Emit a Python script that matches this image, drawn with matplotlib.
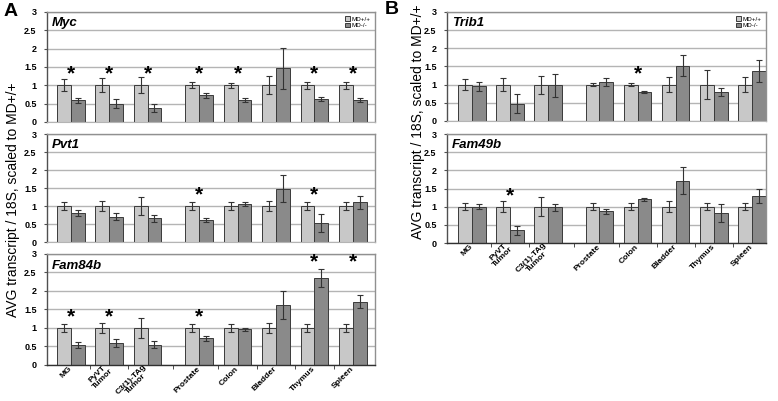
import numpy as np
import matplotlib.pyplot as plt

plt.rcParams['font.family'] = ['Liberation Sans', 'DejaVu Sans']

# 组织类别
categories = ["MG", "PyVT\nTumor", "C3(1)-TAg\nTumor", "Prostate", "Colon",
              "Bladder", "Thymus", "Spleen"]
x = np.array([0, 1, 2, 3.35, 4.35, 5.35, 6.35, 7.35])

# MD+/+ 均为 1
wt = np.ones(8)

# Myc
myc_ko = [0.59, 0.50, 0.39, 0.73, 0.60, 1.46, 0.62, 0.60]
myc_wt_err = [0.16, 0.19, 0.22, 0.08, 0.06, 0.25, 0.10, 0.10]
myc_ko_err = [0.06, 0.13, 0.11, 0.07, 0.06, 0.56, 0.06, 0.06]
myc_sig = [1, 1, 1, 1, 1, 0, 1, 1]

# Pvt1
pvt1_ko = [0.80, 0.70, 0.66, 0.62, 1.05, 1.48, 0.53, 1.10]
pvt1_wt_err = [0.10, 0.15, 0.26, 0.10, 0.10, 0.15, 0.10, 0.10]
pvt1_ko_err = [0.08, 0.10, 0.10, 0.06, 0.05, 0.38, 0.25, 0.19]
pvt1_sig = [0, 0, 0, 1, 0, 0, 1, 0]

# Fam84b
fam84b_ko = [0.53, 0.60, 0.55, 0.72, 0.96, 1.63, 2.35, 1.71]
fam84b_wt_err = [0.10, 0.14, 0.27, 0.10, 0.10, 0.14, 0.10, 0.10]
fam84b_ko_err = [0.08, 0.11, 0.10, 0.06, 0.05, 0.38, 0.24, 0.18]
fam84b_sig = [1, 1, 0, 1, 0, 0, 1, 1]

# Trib1
trib1_ko = [0.95, 0.48, 0.98, 1.07, 0.80, 1.52, 0.80, 1.38]
trib1_wt_err = [0.15, 0.18, 0.25, 0.05, 0.05, 0.20, 0.40, 0.20]
trib1_ko_err = [0.13, 0.27, 0.31, 0.12, 0.03, 0.29, 0.12, 0.31]
trib1_sig = [0, 0, 0, 0, 1, 0, 0, 0]

# Fam49b
fam49b_ko = [1.00, 0.35, 0.98, 0.87, 1.20, 1.72, 0.83, 1.30]
fam49b_wt_err = [0.10, 0.15, 0.26, 0.09, 0.10, 0.15, 0.10, 0.10]
fam49b_ko_err = [0.07, 0.13, 0.10, 0.07, 0.04, 0.38, 0.24, 0.19]
fam49b_sig = [0, 1, 0, 0, 0, 0, 0, 0]

light = '#c8c8c8'
dark = '#8a8a8a'
edge = '#3a3a3a'
w = 0.36

fig = plt.figure(figsize=(7.78, 4.01), dpi=100)


def panel(rect, gene, ko, wt_err, ko_err, sig, xlim, bottom=False, legend=False):
    ax = fig.add_axes(rect)
    ax.bar(x - w / 2, wt, w, color=light, edgecolor=edge, linewidth=0.7, zorder=2, label='MD+/+')
    ax.bar(x + w / 2, ko, w, color=dark, edgecolor=edge, linewidth=0.7, zorder=2, label='MD-/-')
    ax.errorbar(x - w / 2, wt, yerr=wt_err, fmt='none', ecolor='#333333',
                elinewidth=0.8, capsize=2.2, capthick=0.8, zorder=3)
    ax.errorbar(x + w / 2, ko, yerr=ko_err, fmt='none', ecolor='#333333',
                elinewidth=0.8, capsize=2.2, capthick=0.8, zorder=3)
    for i in range(8):
        if sig[i]:
            top = ko[i] + ko_err[i]
            ys = 2.8 if top > 1.3 else 1.3
            ax.text(x[i], ys, '*', ha='center', va='center', fontsize=15,
                    fontweight='bold', zorder=4)
    ax.set_xlim(*xlim)
    ax.set_ylim(0, 3)
    ax.set_yticks(np.arange(0, 3.01, 0.5))
    ax.set_yticklabels(['0', '0.5', '1', '1.5', '2', '2.5', '3'],
                       fontsize=6.5, fontweight='bold')
    ax.yaxis.grid(True, color='#b4b4b4', linewidth=1.0, zorder=0)
    ax.set_axisbelow(True)
    ax.tick_params(axis='y', length=2.5, width=0.8, color='#505050', pad=5)
    for s in ['top', 'right']:
        ax.spines[s].set_color('#909090')
        ax.spines[s].set_linewidth(1.0)
    ax.spines['left'].set_color('#505050')
    ax.spines['left'].set_linewidth(1.0)
    ax.text(0.015, 0.95, gene, transform=ax.transAxes, fontsize=9.5,
            fontweight='bold', fontstyle='italic', va='top', ha='left')
    mids = list((x[:-1] + x[1:]) / 2)
    if bottom:
        ax.spines['bottom'].set_color('#303030')
        ax.spines['bottom'].set_linewidth(1.0)
        ax.set_xticks(x)
        ax.set_xticklabels(categories, rotation=45, ha='right', va='center',
                           rotation_mode='anchor', fontsize=6, fontweight='bold',
                           multialignment='center', linespacing=0.95)
        ax.tick_params(axis='x', length=0, pad=2)
        ax.set_xticks(mids, minor=True)
        ax.tick_params(axis='x', which='minor', length=3, color='#303030')
    else:
        ax.spines['bottom'].set_color('#b4b4b4')
        ax.set_xticks([])
    if legend:
        ax.legend(loc='upper right', fontsize=4.5, frameon=False, handlelength=0.8,
                  handleheight=0.8, handletextpad=0.2, labelspacing=0.1,
                  borderaxespad=0.3)
    return ax


xa = (-0.62, 7.93)
xb = (-0.65, 7.72)
panel([0.0604, 0.6958, 0.4216, 0.2743], 'Myc', myc_ko, myc_wt_err, myc_ko_err, myc_sig, xa, legend=True)
panel([0.0604, 0.3965, 0.4216, 0.2693], 'Pvt1', pvt1_ko, pvt1_wt_err, pvt1_ko_err, pvt1_sig, xa)
panel([0.0604, 0.0898, 0.4216, 0.2768], 'Fam84b', fam84b_ko, fam84b_wt_err, fam84b_ko_err, fam84b_sig, xa, bottom=True)
panel([0.5746, 0.6983, 0.4100, 0.2718], 'Trib1', trib1_ko, trib1_wt_err, trib1_ko_err, trib1_sig, xb, legend=True)
panel([0.5746, 0.3940, 0.4100, 0.2718], 'Fam49b', fam49b_ko, fam49b_wt_err, fam49b_ko_err, fam49b_sig, xb, bottom=True)

ylab = 'AVG transcript / 18S, scaled to MD+/+'
fig.text(13 / 778, 1 - 200 / 401, ylab, rotation=90, fontsize=10, ha='center', va='center')
fig.text(418 / 778, 1 - 122 / 401, ylab, rotation=90, fontsize=10, ha='center', va='center')
fig.text(4 / 778, 1 - 11 / 401, 'A', fontsize=14, fontweight='bold', ha='left', va='center')
fig.text(385 / 778, 1 - 9 / 401, 'B', fontsize=14, fontweight='bold', ha='left', va='center')

fig.savefig('out.png', dpi=100)
